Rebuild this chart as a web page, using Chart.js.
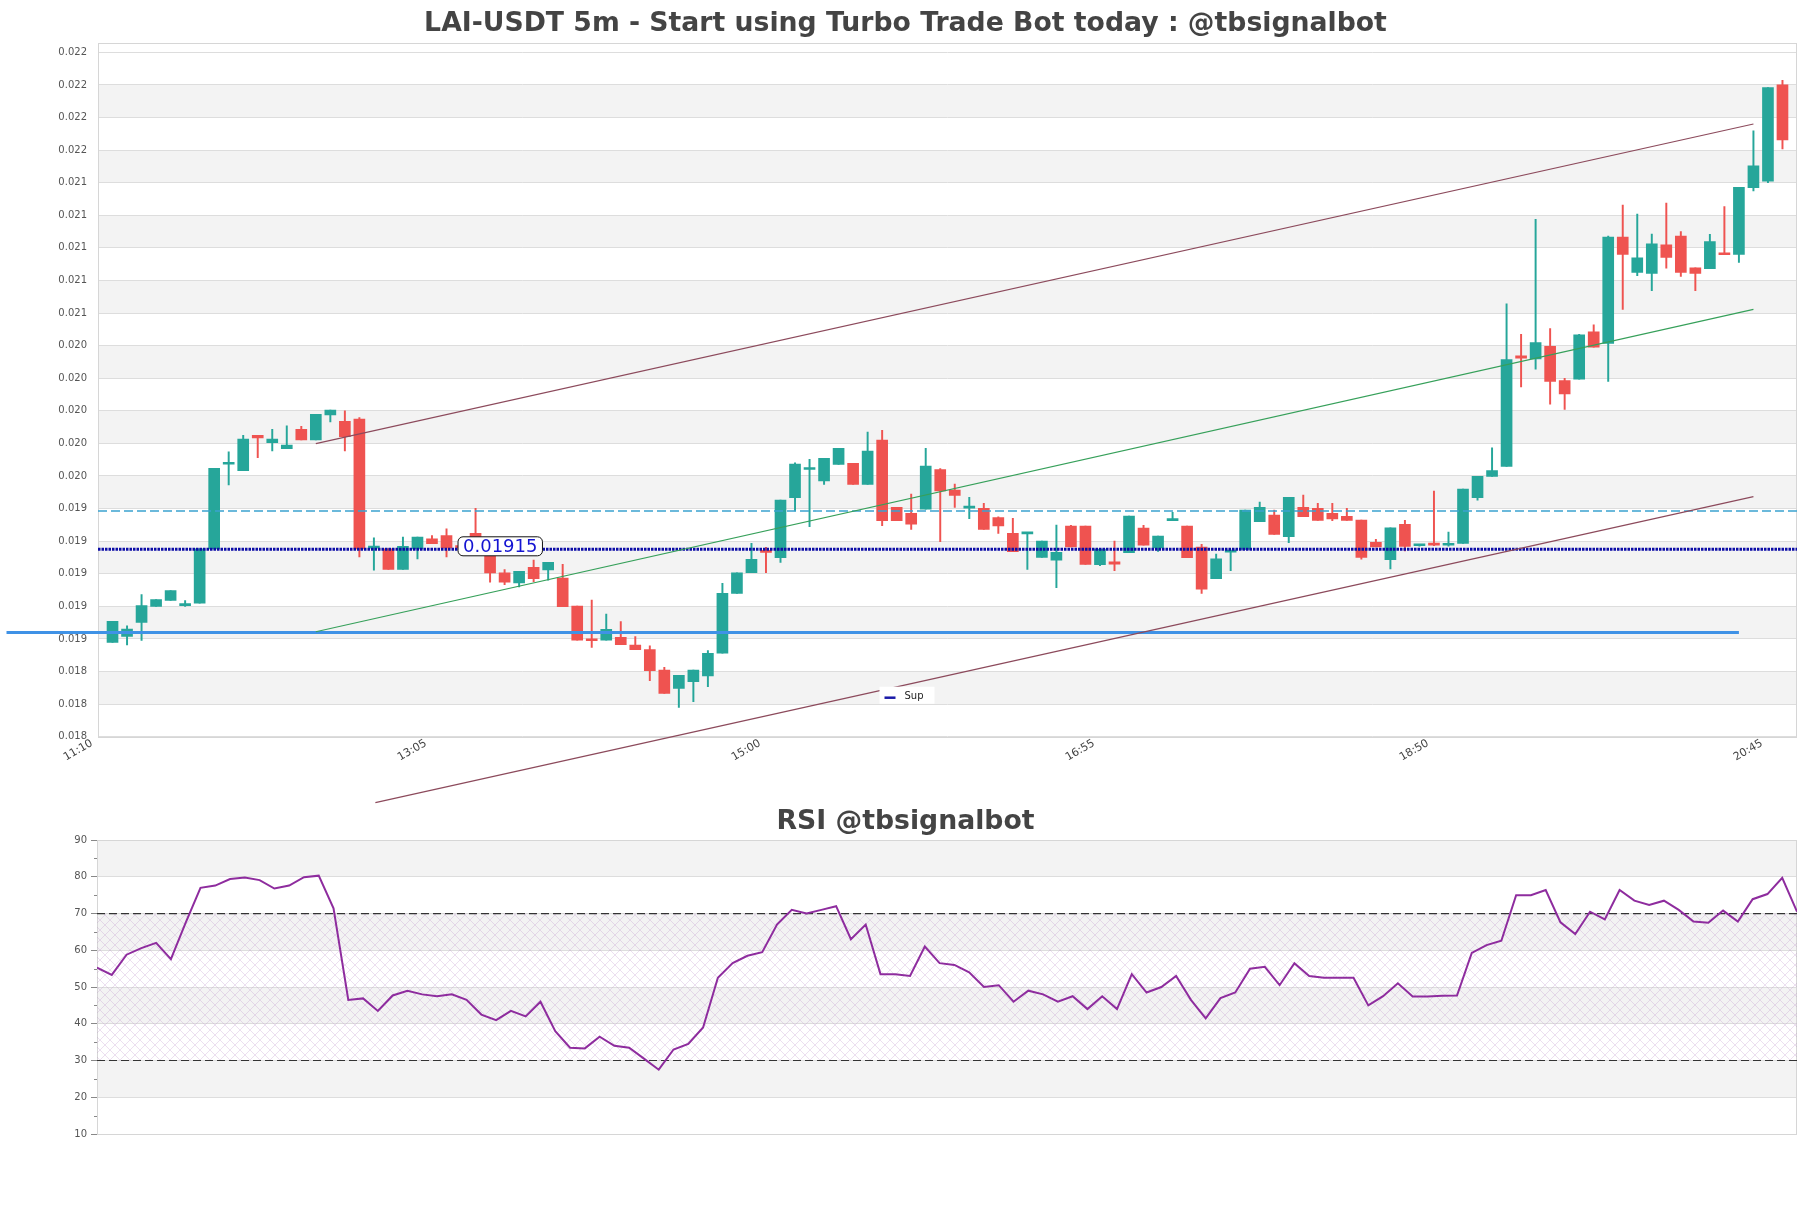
<!DOCTYPE html>
<html>
<head>
<meta charset="utf-8">
<script src="https://cdn.jsdelivr.net/npm/chart.js@4.4.1/dist/chart.umd.min.js"></script>
<style>
  html, body { margin: 0; padding: 0; background: #fff; }
  #wrap { position: relative; width: 1811px; height: 1208px; overflow: hidden; }
  #price { position: absolute; left: 0; top: 0; }
  #rsi { position: absolute; left: 0; top: 780px; }
</style>
</head>
<body>
<div id="wrap">
  <canvas id="price" width="1811" height="810"></canvas>
  <canvas id="rsi" width="1811" height="428"></canvas>
</div>
<script>
// x axis: slot 0 = 11:10, one slot per 5m candle
const tickSlots = [0, 23, 46, 69, 92, 115];
const tickLabels = ['11:10', '13:05', '15:00', '16:55', '18:50', '20:45'];
const priceTicks = [0.0180, 0.0182, 0.0184, 0.0186, 0.0188, 0.0190, 0.0192, 0.0194, 0.0196, 0.0198, 0.0200,
  0.0202, 0.0204, 0.0206, 0.0208, 0.0210, 0.0212, 0.0214, 0.0216, 0.0218, 0.0220, 0.0222];
const rsiTicks = [10, 20, 30, 40, 50, 60, 70, 80, 90];

const opens = [0.018578, 0.018615, 0.018702, 0.018800, 0.018837, 0.018804, 0.018820, 0.019153, 0.019672, 0.019633,
  0.019850, 0.019805, 0.019768, 0.019887, 0.019822, 0.019975, 0.019936, 0.019949, 0.019157, 0.019153,
  0.019026, 0.019153, 0.019215, 0.019235, 0.019165, 0.019248, 0.019108, 0.019005, 0.018944, 0.019039,
  0.019023, 0.018974, 0.018802, 0.018600, 0.018593, 0.018610, 0.018562, 0.018534, 0.018409, 0.018297,
  0.018338, 0.018373, 0.018512, 0.018880, 0.019006, 0.019139, 0.019099, 0.019467, 0.019640, 0.019569,
  0.019671, 0.019677, 0.019548, 0.019820, 0.019407, 0.019371, 0.019397, 0.019640, 0.019514, 0.019403,
  0.019401, 0.019344, 0.019248, 0.019245, 0.019101, 0.019084, 0.019293, 0.019293, 0.019056, 0.019073,
  0.019129, 0.019281, 0.019158, 0.019326, 0.019293, 0.019164, 0.018970, 0.019133, 0.019150, 0.019319,
  0.019360, 0.019227, 0.019407, 0.019401, 0.019371, 0.019352, 0.019330, 0.019193, 0.019087, 0.019304,
  0.019172, 0.019188, 0.019175, 0.019186, 0.019467, 0.019598, 0.019659, 0.020338, 0.020319, 0.020395,
  0.020186, 0.020194, 0.020485, 0.020413, 0.021066, 0.020849, 0.020843, 0.021018, 0.021072, 0.020878,
  0.020873, 0.020969, 0.020959, 0.021369, 0.021410, 0.022000];
const highs = [0.018708, 0.018681, 0.018872, 0.018841, 0.018897, 0.018835, 0.019153, 0.019647, 0.019748, 0.019850,
  0.019850, 0.019887, 0.019908, 0.019904, 0.019979, 0.020004, 0.020000, 0.019959, 0.019221, 0.019153,
  0.019225, 0.019225, 0.019235, 0.019276, 0.019170, 0.019402, 0.019108, 0.019026, 0.019015, 0.019084,
  0.019070, 0.019058, 0.018802, 0.018839, 0.018753, 0.018706, 0.018614, 0.018557, 0.018426, 0.018377,
  0.018409, 0.018528, 0.018941, 0.019006, 0.019186, 0.019162, 0.019452, 0.019680, 0.019702, 0.019708,
  0.019769, 0.019677, 0.019870, 0.019880, 0.019407, 0.019489, 0.019769, 0.019645, 0.019551, 0.019469,
  0.019432, 0.019350, 0.019340, 0.019250, 0.019201, 0.019299, 0.019297, 0.019293, 0.019152, 0.019201,
  0.019354, 0.019297, 0.019231, 0.019377, 0.019293, 0.019180, 0.019121, 0.019137, 0.019391, 0.019440,
  0.019391, 0.019469, 0.019483, 0.019432, 0.019432, 0.019401, 0.019330, 0.019211, 0.019282, 0.019328,
  0.019178, 0.019507, 0.019256, 0.019520, 0.019598, 0.019773, 0.020657, 0.020470, 0.021175, 0.020504,
  0.020199, 0.020470, 0.020528, 0.021072, 0.021262, 0.021207, 0.021085, 0.021275, 0.021100, 0.020878,
  0.021083, 0.021253, 0.021371, 0.021718, 0.021983, 0.022028];
const lows = [0.018578, 0.018564, 0.018591, 0.018800, 0.018837, 0.018800, 0.018820, 0.019153, 0.019545, 0.019633,
  0.019713, 0.019754, 0.019768, 0.019822, 0.019822, 0.019932, 0.019754, 0.019104, 0.019022, 0.019026,
  0.019026, 0.019091, 0.019184, 0.019104, 0.019150, 0.019120, 0.018948, 0.018933, 0.018919, 0.018951,
  0.018961, 0.018798, 0.018593, 0.018548, 0.018593, 0.018565, 0.018534, 0.018344, 0.018266, 0.018180,
  0.018215, 0.018307, 0.018512, 0.018880, 0.019006, 0.019006, 0.019070, 0.019385, 0.019289, 0.019548,
  0.019671, 0.019548, 0.019548, 0.019295, 0.019326, 0.019272, 0.019397, 0.019197, 0.019407, 0.019338,
  0.019272, 0.019248, 0.019135, 0.019027, 0.019101, 0.018914, 0.019165, 0.019058, 0.019050, 0.019019,
  0.019129, 0.019176, 0.019137, 0.019326, 0.019099, 0.018880, 0.018970, 0.019019, 0.019150, 0.019319,
  0.019242, 0.019191, 0.019350, 0.019328, 0.019326, 0.019328, 0.019089, 0.019165, 0.019030, 0.019140,
  0.019170, 0.019173, 0.019170, 0.019186, 0.019452, 0.019598, 0.019659, 0.020146, 0.020255, 0.020041,
  0.020009, 0.020194, 0.020391, 0.020181, 0.020622, 0.020830, 0.020738, 0.020876, 0.020825, 0.020738,
  0.020873, 0.020958, 0.020910, 0.021349, 0.021400, 0.021607];
const closes = [0.018708, 0.018660, 0.018804, 0.018841, 0.018897, 0.018808, 0.019153, 0.019647, 0.019676, 0.019826,
  0.019834, 0.019826, 0.019789, 0.019822, 0.019979, 0.020004, 0.019842, 0.019153, 0.019165, 0.019026,
  0.019169, 0.019225, 0.019184, 0.019159, 0.019160, 0.019140, 0.019005, 0.018948, 0.019015, 0.018970,
  0.019070, 0.018798, 0.018593, 0.018589, 0.018659, 0.018565, 0.018534, 0.018405, 0.018266, 0.018377,
  0.018409, 0.018512, 0.018880, 0.019006, 0.019088, 0.019131, 0.019452, 0.019673, 0.019645, 0.019708,
  0.019769, 0.019548, 0.019753, 0.019326, 0.019326, 0.019305, 0.019661, 0.019508, 0.019481, 0.019407,
  0.019272, 0.019294, 0.019135, 0.019250, 0.019201, 0.019131, 0.019165, 0.019058, 0.019152, 0.019059,
  0.019354, 0.019176, 0.019231, 0.019330, 0.019099, 0.018906, 0.019092, 0.019137, 0.019391, 0.019407,
  0.019242, 0.019469, 0.019350, 0.019328, 0.019336, 0.019328, 0.019101, 0.019165, 0.019282, 0.019168,
  0.019175, 0.019175, 0.019180, 0.019520, 0.019598, 0.019633, 0.020314, 0.020323, 0.020418, 0.020181,
  0.020103, 0.020466, 0.020391, 0.021066, 0.020959, 0.020939, 0.021024, 0.020941, 0.020849, 0.020843,
  0.021039, 0.020958, 0.021371, 0.021504, 0.021983, 0.021662];

const rsi = [55.3, 53.3, 58.8, 60.6, 62.0, 57.6, 67.5, 77.0, 77.6, 79.4,
  79.8, 79.1, 76.8, 77.6, 79.9, 80.3, 71.4, 46.5, 46.9, 43.5,
  47.7, 49.0, 48.0, 47.5, 48.0, 46.5, 42.5, 41.0, 43.5, 42.0,
  46.0, 38.0, 33.5, 33.3, 36.5, 34.0, 33.5, 30.5, 27.5, 33.0,
  34.5, 39.0, 52.5, 56.5, 58.5, 59.5, 67.0, 71.0, 70.0, 71.0,
  72.0, 63.0, 67.0, 53.5, 53.5, 53.0, 61.0, 56.5, 56.0, 54.0,
  50.0, 50.5, 46.0, 49.0, 48.0, 46.0, 47.5, 44.0, 47.5, 44.0,
  53.5, 48.5, 50.0, 53.0, 46.5, 41.5, 47.0, 48.5, 55.0, 55.5,
  50.5, 56.5, 53.0, 52.5, 52.5, 52.5, 45.0, 47.5, 51.0, 47.4,
  47.4, 47.6, 47.7, 59.3, 61.4, 62.6, 75.0, 75.0, 76.4, 67.6,
  64.4, 70.5, 68.4, 76.4, 73.5, 72.3, 73.5, 71.0, 67.8, 67.5,
  70.8, 67.8, 73.9, 75.3, 79.7, 70.5];

// levels and trend lines, [slot, price]
const supportLevel = 0.01864;
const supportSpan = [-6.3, 113];
const priceLevel = 0.01915;
const resistLevel = 0.019385;
const channelTop = [[15, 0.019799], [114, 0.021760]];
const channelMid = [[15, 0.018644], [114, 0.020622]];
const channelLow = [[19.1, 0.017595], [114, 0.019473]];
const priceLabelSlot = 27.7;

Chart.defaults.font.family = '"DejaVu Sans", sans-serif';
Chart.defaults.color = '#555';

const up = '#26a69a', down = '#ef5350';
const candleColors = closes.map((c, i) => c >= opens[i] ? up : down);
const wickData = highs.map((h, i) => ({ x: i + 1, y: [lows[i], h] }));
const bodyData = opens.map((o, i) => ({ x: i + 1, y: [o, closes[i]] }));
const toXY = pts => pts.map(p => ({ x: p[0], y: p[1] }));

const bands = {
  id: 'bands',
  beforeDraw(chart) {
    const { ctx, chartArea: a } = chart;
    const y = chart.scales.y;
    const t = y.ticks;
    ctx.save();
    ctx.fillStyle = '#f3f3f3';
    for (let k = 1; k < t.length - 1; k += 2) {
      const y0 = y.getPixelForValue(t[k].value), y1 = y.getPixelForValue(t[k + 1].value);
      ctx.fillRect(a.left, y1, a.right - a.left, y0 - y1);
    }
    ctx.restore();
  },
  beforeDatasetsDraw(chart) {
    const { ctx, chartArea: a } = chart;
    ctx.save();
    ctx.strokeStyle = '#d6d6d6';
    ctx.lineWidth = 1;
    ctx.strokeRect(Math.round(a.left) + 0.5, Math.round(a.top) + 0.5,
      Math.round(a.right - a.left) - 1, Math.round(a.bottom - a.top));
    ctx.restore();
  }
};

const priceNotes = {
  id: 'priceNotes',
  afterDatasetsDraw(chart) {
    const { ctx, chartArea: a } = chart;
    const { x, y } = chart.scales;
    ctx.save();
    // level tag
    const text = priceLevel.toFixed(5);
    ctx.font = '18px "DejaVu Sans"';
    const w = ctx.measureText(text).width + 10;
    const cx = x.getPixelForValue(priceLabelSlot);
    const cy = y.getPixelForValue(priceLevel) - 3;
    ctx.beginPath();
    ctx.roundRect(cx - w / 2, cy - 9.5, w, 19, 5);
    ctx.fillStyle = '#fff';
    ctx.fill();
    ctx.strokeStyle = '#111';
    ctx.lineWidth = 1;
    ctx.stroke();
    ctx.fillStyle = '#1414d2';
    ctx.textAlign = 'center';
    ctx.textBaseline = 'middle';
    ctx.fillText(text, cx, cy + 1);
    // legend
    const lx = chart.width / 2 - 26, ly = a.bottom - 50;
    ctx.fillStyle = '#fff';
    ctx.fillRect(lx, ly, 55, 17);
    ctx.strokeStyle = '#1a1aa8';
    ctx.lineWidth = 2.5;
    ctx.beginPath();
    ctx.moveTo(lx + 5, ly + 11);
    ctx.lineTo(lx + 16, ly + 11);
    ctx.stroke();
    ctx.fillStyle = '#222';
    ctx.font = '10px "DejaVu Sans"';
    ctx.textAlign = 'left';
    ctx.fillText('Sup', lx + 25, ly + 10);
    ctx.restore();
  }
};

new Chart(document.getElementById('price'), {
  type: 'bar',
  data: {
    datasets: [
      { type: 'line', data: toXY(channelTop), borderColor: '#8c4a5c', borderWidth: 1.2, pointRadius: 0, clip: false, order: 1 },
      { type: 'line', data: toXY(channelMid), borderColor: '#36a05a', borderWidth: 1.2, pointRadius: 0, clip: false, order: 1 },
      { type: 'line', data: toXY(channelLow), borderColor: '#8c4a5c', borderWidth: 1.2, pointRadius: 0, clip: false, order: 1 },
      { type: 'line', data: toXY([[supportSpan[0], supportLevel], [supportSpan[1], supportLevel]]),
        borderColor: '#3f92e6', borderWidth: 3, pointRadius: 0, clip: false, order: 2 },
      { type: 'line', data: toXY([[0, priceLevel], [117, priceLevel]]),
        borderColor: '#0c0ca6', borderWidth: 3, borderDash: [2.5, 1], pointRadius: 0, order: 2 },
      { type: 'line', data: toXY([[0, resistLevel], [117, resistLevel]]),
        borderColor: '#3ba3cf', borderWidth: 1.3, borderDash: [9, 4], pointRadius: 0, order: 2 },
      { label: 'wick', data: wickData, backgroundColor: candleColors, barThickness: 1.3, grouped: false, order: 6 },
      { label: 'body', data: bodyData, backgroundColor: candleColors, barThickness: 11, grouped: false, minBarLength: 2, order: 5 }
    ]
  },
  options: {
    responsive: false,
    animation: false,
    devicePixelRatio: 1,
    layout: { padding: { left: 14, right: 14, top: 0, bottom: 29.3 } },
    plugins: {
      legend: { display: false },
      tooltip: { enabled: false },
      title: {
        display: true,
        text: 'LAI-USDT 5m - Start using Turbo Trade Bot today : @tbsignalbot',
        font: { size: 26.7, weight: 'bold' },
        color: '#444',
        padding: { top: 8.3, bottom: 2.7 }
      }
    },
    scales: {
      x: {
        type: 'linear', min: 0, max: 117, offset: false,
        grid: { display: false, drawTicks: false, offset: false },
        border: { display: false },
        afterBuildTicks: s => { s.ticks = tickSlots.map(v => ({ value: v })); },
        afterFit: s => { s.height = 44; },
        ticks: {
          autoSkip: false, minRotation: 30, maxRotation: 30, padding: 0, labelOffset: -6,
          font: { size: 11 }, color: '#444',
          callback: (v, i) => tickLabels[i]
        }
      },
      y: {
        min: 0.018, max: 0.022257,
        grid: { color: '#dddddd', drawTicks: false },
        border: { display: false },
        afterBuildTicks: s => { s.ticks = priceTicks.map(v => ({ value: v })); },
        afterFit: s => { s.width = 84; },
        ticks: { padding: 11, font: { size: 10 }, color: '#555', callback: v => v.toFixed(3) }
      }
    }
  },
  plugins: [bands, priceNotes]
});

function hatchPattern(ctx) {
  const c = document.createElement('canvas');
  c.width = 10; c.height = 10;
  const g = c.getContext('2d');
  g.strokeStyle = 'rgba(185,140,200,0.35)';
  g.lineWidth = 0.8;
  g.beginPath();
  g.moveTo(0, 0); g.lineTo(10, 10);
  g.moveTo(10, 0); g.lineTo(0, 10);
  g.stroke();
  return ctx.createPattern(c, 'repeat');
}

const rsiZone = {
  id: 'rsiZone',
  beforeDatasetsDraw(chart) {
    const { ctx, chartArea: a } = chart;
    const y = chart.scales.y;
    const top = y.getPixelForValue(70), bot = y.getPixelForValue(30);
    ctx.save();
    ctx.fillStyle = hatchPattern(ctx);
    ctx.fillRect(a.left, top, a.right - a.left, bot - top);
    ctx.strokeStyle = '#333';
    ctx.lineWidth = 1.2;
    ctx.setLineDash([8, 4]);
    [top, bot].forEach(p => {
      ctx.beginPath();
      ctx.moveTo(a.left, p);
      ctx.lineTo(a.right, p);
      ctx.stroke();
    });
    ctx.setLineDash([]);
    // minor ticks
    ctx.strokeStyle = '#888';
    ctx.lineWidth = 1;
    for (let k = 0; k < rsiTicks.length - 1; k++) {
      const p = Math.round(y.getPixelForValue((rsiTicks[k] + rsiTicks[k + 1]) / 2)) + 0.5;
      ctx.beginPath();
      ctx.moveTo(a.left - 3, p);
      ctx.lineTo(a.left, p);
      ctx.stroke();
    }
    ctx.restore();
  }
};

new Chart(document.getElementById('rsi'), {
  type: 'line',
  data: {
    datasets: [{
      data: rsi.map((v, i) => ({ x: i, y: v })),
      borderColor: '#8e2c9e', borderWidth: 2, pointRadius: 0, tension: 0
    }]
  },
  options: {
    responsive: false,
    animation: false,
    devicePixelRatio: 1,
    layout: { padding: { left: 14, right: 14, top: 0, bottom: 74 } },
    plugins: {
      legend: { display: false },
      tooltip: { enabled: false },
      title: {
        display: true,
        text: 'RSI @tbsignalbot',
        font: { size: 26.7, weight: 'bold' },
        color: '#444',
        padding: { top: 26.3, bottom: 1.7 }
      }
    },
    scales: {
      x: { type: 'linear', min: 0, max: 115, display: false },
      y: {
        min: 10, max: 90,
        grid: { color: '#dddddd', tickLength: 6, tickColor: '#888' },
        border: { display: false },
        afterBuildTicks: s => { s.ticks = rsiTicks.map(v => ({ value: v })); },
        afterFit: s => { s.width = 83; },
        ticks: { padding: 4, font: { size: 10 }, color: '#555' }
      }
    }
  },
  plugins: [bands, rsiZone]
});
</script>
</body>
</html>
